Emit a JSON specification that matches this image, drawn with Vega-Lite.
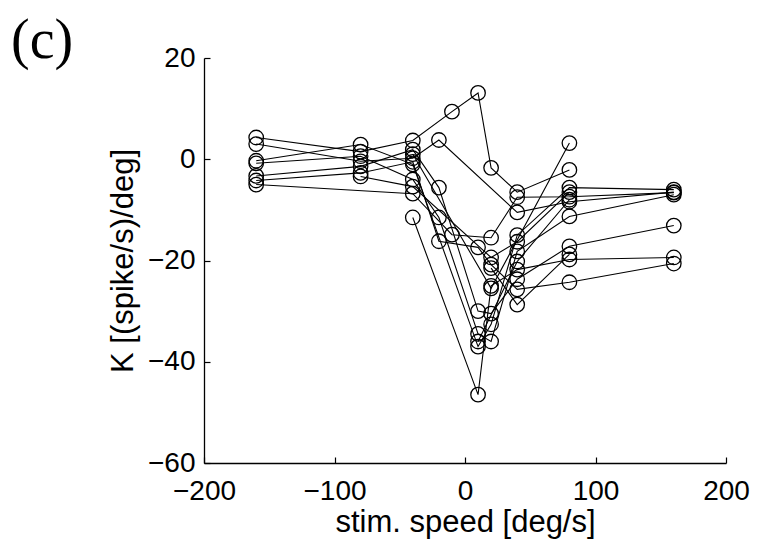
{
  "$schema": "https://vega.github.io/schema/vega-lite/v6.json",
  "width": 522,
  "height": 405,
  "autosize": {"type": "none"},
  "padding": {"left": 204, "top": 58, "right": 31, "bottom": 89},
  "background": "white",
  "title": {
    "text": "(c)",
    "anchor": "start",
    "frame": "group",
    "font": "Liberation Serif",
    "fontSize": 56,
    "fontWeight": "normal",
    "color": "black",
    "dx": -193,
    "dy": 82,
    "offset": 0,
    "baseline": "bottom"
  },
  "config": {
    "view": {"stroke": null},
    "axis": {
      "grid": false,
      "domainColor": "black",
      "domainWidth": 1.3,
      "tickColor": "black",
      "tickWidth": 1.2,
      "labelColor": "black",
      "titleColor": "black",
      "labelFont": "Liberation Sans",
      "titleFont": "Liberation Sans",
      "labelFontSize": 28,
      "titleFontSize": 31,
      "titleFontWeight": "normal"
    }
  },
  "data": {
    "values": [
      {"cell": "c1", "speed": -160, "k": 4.3},
      {"cell": "c1", "speed": -80, "k": 1.5},
      {"cell": "c1", "speed": -40, "k": 3.7},
      {"cell": "c1", "speed": -10, "k": 9.4},
      {"cell": "c1", "speed": 10, "k": 13.1},
      {"cell": "c1", "speed": 20, "k": -1.7},
      {"cell": "c1", "speed": 40, "k": -6.5},
      {"cell": "c1", "speed": 80, "k": -2.1},

      {"cell": "c2", "speed": -160, "k": 3.0},
      {"cell": "c2", "speed": -80, "k": -0.4},
      {"cell": "c2", "speed": -40, "k": 0.2},
      {"cell": "c2", "speed": -20, "k": 3.8},
      {"cell": "c2", "speed": 40, "k": -10.5},
      {"cell": "c2", "speed": 80, "k": -8.4},
      {"cell": "c2", "speed": 160, "k": -6.5},

      {"cell": "c3", "speed": -40, "k": -11.5},
      {"cell": "c3", "speed": 10, "k": -46.5},
      {"cell": "c3", "speed": 20, "k": -25},
      {"cell": "c3", "speed": 40, "k": -21.8},
      {"cell": "c3", "speed": 80, "k": -19.8},
      {"cell": "c3", "speed": 160, "k": -19.4},

      {"cell": "c4", "speed": -160, "k": -0.3},
      {"cell": "c4", "speed": -80, "k": 2.9},
      {"cell": "c4", "speed": -40, "k": -1.0},
      {"cell": "c4", "speed": 10, "k": -37},
      {"cell": "c4", "speed": 20, "k": -32.6},
      {"cell": "c4", "speed": 40, "k": -15},
      {"cell": "c4", "speed": 80, "k": -5.6},
      {"cell": "c4", "speed": 160, "k": -6.0},

      {"cell": "c5", "speed": -160, "k": -0.8},
      {"cell": "c5", "speed": -80, "k": 0.6},
      {"cell": "c5", "speed": -40, "k": -4.0},
      {"cell": "c5", "speed": -20, "k": -11.5},
      {"cell": "c5", "speed": 10, "k": -34.5},
      {"cell": "c5", "speed": 20, "k": -36},
      {"cell": "c5", "speed": 40, "k": -18.2},
      {"cell": "c5", "speed": 80, "k": -11.3},
      {"cell": "c5", "speed": 160, "k": -7.0},

      {"cell": "c6", "speed": -160, "k": -3.3},
      {"cell": "c6", "speed": -80, "k": -1.4},
      {"cell": "c6", "speed": -40, "k": 1.9},
      {"cell": "c6", "speed": -20, "k": -5.6},
      {"cell": "c6", "speed": 10, "k": -30},
      {"cell": "c6", "speed": 20, "k": -30.5},
      {"cell": "c6", "speed": 40, "k": -23.7},
      {"cell": "c6", "speed": 80, "k": -17.2},
      {"cell": "c6", "speed": 160, "k": -13.1},

      {"cell": "c7", "speed": -160, "k": -4.2},
      {"cell": "c7", "speed": -80, "k": -2.7},
      {"cell": "c7", "speed": -40, "k": -0.5},
      {"cell": "c7", "speed": -20, "k": -16.2},
      {"cell": "c7", "speed": 10, "k": -17.4},
      {"cell": "c7", "speed": 20, "k": -20.8},
      {"cell": "c7", "speed": 40, "k": -25.7},
      {"cell": "c7", "speed": 80, "k": -24.3},
      {"cell": "c7", "speed": 160, "k": -20.6},

      {"cell": "c8", "speed": -160, "k": -5.0},
      {"cell": "c8", "speed": -40, "k": -6.8},
      {"cell": "c8", "speed": -10, "k": -14.9},
      {"cell": "c8", "speed": 20, "k": -15.5},
      {"cell": "c8", "speed": 40, "k": -7.5},
      {"cell": "c8", "speed": 80, "k": -7.4},
      {"cell": "c8", "speed": 160, "k": -6.6},

      {"cell": "c9", "speed": -80, "k": -3.4},
      {"cell": "c9", "speed": -40, "k": -5.4},
      {"cell": "c9", "speed": 20, "k": -19.4},
      {"cell": "c9", "speed": 40, "k": -16.3},
      {"cell": "c9", "speed": 80, "k": -6.5},

      {"cell": "c10", "speed": -40, "k": 1.0},
      {"cell": "c10", "speed": 20, "k": -25.5},
      {"cell": "c10", "speed": 80, "k": 3.2},

      {"cell": "c11", "speed": 20, "k": -21.5},
      {"cell": "c11", "speed": 40, "k": -28.7},
      {"cell": "c11", "speed": 80, "k": -18.8},

      {"cell": "c12", "speed": 10, "k": -36},
      {"cell": "c12", "speed": 40, "k": -20.2},
      {"cell": "c12", "speed": 80, "k": -8.0}
    ]
  },
  "encoding": {
    "x": {
      "field": "speed",
      "type": "quantitative",
      "scale": {"domain": [-200, 200], "nice": false, "zero": false},
      "axis": {
        "title": "stim. speed [deg/s]",
        "values": [-200, -100, 0, 100, 200],
        "tickSize": -6,
        "labelPadding": 20,
        "titlePadding": 2,
        "labelFlush": false
      }
    },
    "y": {
      "field": "k",
      "type": "quantitative",
      "scale": {"domain": [-60, 20], "nice": false, "zero": false},
      "axis": {
        "title": "K [(spike/s)/deg]",
        "values": [-60, -40, -20, 0, 20],
        "tickSize": -6,
        "labelPadding": 15,
        "titlePadding": 8,
        "labelFlush": false
      }
    }
  },
  "layer": [
    {
      "mark": {"type": "line", "color": "black", "strokeWidth": 1.1},
      "encoding": {"detail": {"field": "cell"}}
    },
    {
      "mark": {
        "type": "point",
        "shape": "circle",
        "filled": false,
        "size": 210,
        "stroke": "black",
        "strokeWidth": 1.3,
        "opacity": 1
      }
    }
  ]
}
